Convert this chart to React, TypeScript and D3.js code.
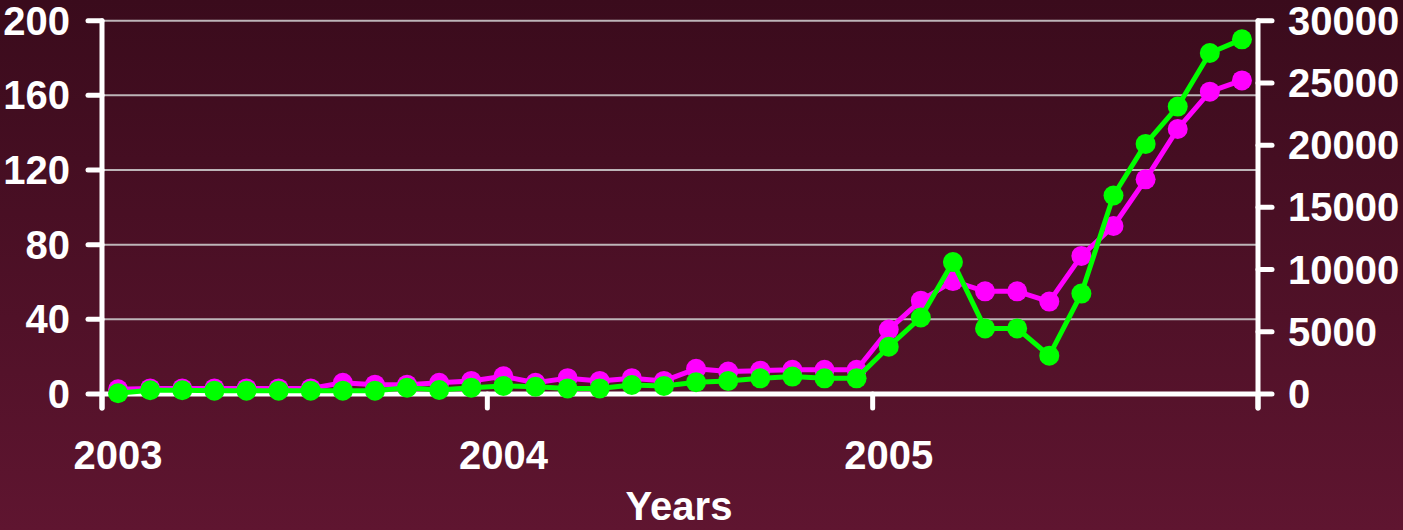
import React, { useEffect, useRef } from 'react';
import * as d3 from 'd3';

// 36 monthly points, Jan 2003 .. Dec 2005
const months = d3.range(36);
const yearLabels = ['2003', '2004', '2005'];
const leftTicks = [0, 40, 80, 120, 160, 200];
const rightTicks = [0, 5000, 10000, 15000, 20000, 25000, 30000];

// magenta series, left axis
const magentaValues = [
  2.5, 3, 3, 3, 3, 3, 3, 6, 5, 5, 6, 7,
  9.5, 6, 8.5, 7, 8.5, 7, 13.5, 12, 12.5, 13, 13, 13,
  34.5, 50, 60.5, 55, 55, 49.5, 74, 90, 115, 142, 162, 168,
];

// green series, right axis
const greenValues = [
  60, 300, 300, 270, 270, 270, 270, 270, 270, 510, 320, 510,
  650, 590, 450, 450, 720, 650, 950, 1050, 1260, 1400, 1260, 1260,
  3800, 6150, 10600, 5270, 5270, 3080, 8070, 15950, 20100, 23100, 27400, 28500,
];

const W = 1403;
const H = 530;
const FONT = '"Liberation Sans", Arial, sans-serif';

const App: React.FC = () => {
  const svgRef = useRef<SVGSVGElement>(null);

  useEffect(() => {
    if (!svgRef.current) return;
    const svg = d3.select(svgRef.current);
    svg.selectAll('*').remove();

    const left = 102;
    const right = 1258;
    const top = 20.7;
    const bottom = 394;

    const x = d3.scaleBand<number>().domain(months).range([left, right]).padding(0);
    const yL = d3.scaleLinear().domain([0, 200]).range([bottom, top]);
    const yR = d3.scaleLinear().domain([0, 30000]).range([bottom, top]);
    const cx = (i: number) => (x(i) || 0) + x.bandwidth() / 2;

    // background
    const defs = svg.append('defs');
    const grad = defs.append('linearGradient')
      .attr('id', 'bg').attr('x1', 0).attr('y1', 0).attr('x2', 0).attr('y2', 1);
    grad.append('stop').attr('offset', '0%').attr('stop-color', '#3a0b1c');
    grad.append('stop').attr('offset', '100%').attr('stop-color', '#5f1530');
    svg.append('rect').attr('width', W).attr('height', H).attr('fill', 'url(#bg)');

    // gridlines
    svg.append('g').selectAll('line')
      .data(leftTicks.filter(d => d > 0))
      .enter().append('line')
      .attr('x1', left).attr('x2', right)
      .attr('y1', d => yL(d)).attr('y2', d => yL(d))
      .attr('stroke', '#bdb5b8').attr('stroke-width', 2);

    const axes = svg.append('g')
      .attr('stroke', '#ffffff').attr('stroke-width', 5).attr('stroke-linecap', 'round');

    // left axis + ticks
    axes.append('line').attr('x1', left).attr('x2', left).attr('y1', top).attr('y2', bottom + 14);
    axes.selectAll('.lt').data(leftTicks).enter().append('line')
      .attr('x1', left - 14).attr('x2', left)
      .attr('y1', d => yL(d)).attr('y2', d => yL(d));

    // right axis + ticks
    axes.append('line').attr('x1', right).attr('x2', right).attr('y1', top).attr('y2', bottom + 14);
    axes.selectAll('.rt').data(rightTicks).enter().append('line')
      .attr('x1', right).attr('x2', right + 14)
      .attr('y1', d => yR(d)).attr('y2', d => yR(d));

    // x axis + year ticks
    axes.append('line').attr('x1', left).attr('x2', right).attr('y1', bottom).attr('y2', bottom);
    axes.selectAll('.xt').data([0, 12, 24, 36]).enter().append('line')
      .attr('x1', d => left + d * x.bandwidth()).attr('x2', d => left + d * x.bandwidth())
      .attr('y1', bottom).attr('y2', bottom + 14);

    const text = svg.append('g')
      .attr('fill', '#ffffff').attr('font-family', FONT)
      .attr('font-weight', 'bold').attr('font-size', 40);

    text.selectAll('.ll').data(leftTicks).enter().append('text')
      .attr('x', 70).attr('y', d => yL(d) + 14)
      .attr('text-anchor', 'end').text(d => d);

    text.selectAll('.rl').data(rightTicks).enter().append('text')
      .attr('x', 1288).attr('y', d => yR(d) + 14)
      .attr('text-anchor', 'start').text(d => d);

    text.selectAll('.yl').data(yearLabels).enter().append('text')
      .attr('x', (d, i) => cx(i * 12)).attr('y', 469)
      .attr('text-anchor', 'middle').text(d => d);

    text.append('text').attr('x', 679).attr('y', 520)
      .attr('text-anchor', 'middle').text('Years');

    // series
    const drawSeries = (values: number[], y: d3.ScaleLinear<number, number>, color: string) => {
      const line = d3.line<number>().x((d, i) => cx(i)).y(d => y(d));
      const g = svg.append('g');
      g.append('path').datum(values)
        .attr('d', line).attr('fill', 'none')
        .attr('stroke', color).attr('stroke-width', 5).attr('stroke-linejoin', 'round');
      g.selectAll('circle').data(values).enter().append('circle')
        .attr('cx', (d, i) => cx(i)).attr('cy', d => y(d))
        .attr('r', 10).attr('fill', color);
    };

    drawSeries(magentaValues, yL, '#ff00ff');
    drawSeries(greenValues, yR, '#00ff00');
  }, []);

  return (
    <svg
      ref={svgRef}
      width={W}
      height={H}
      style={{ position: 'absolute', left: 0, top: 0, display: 'block' }}
    />
  );
};

export default App;
